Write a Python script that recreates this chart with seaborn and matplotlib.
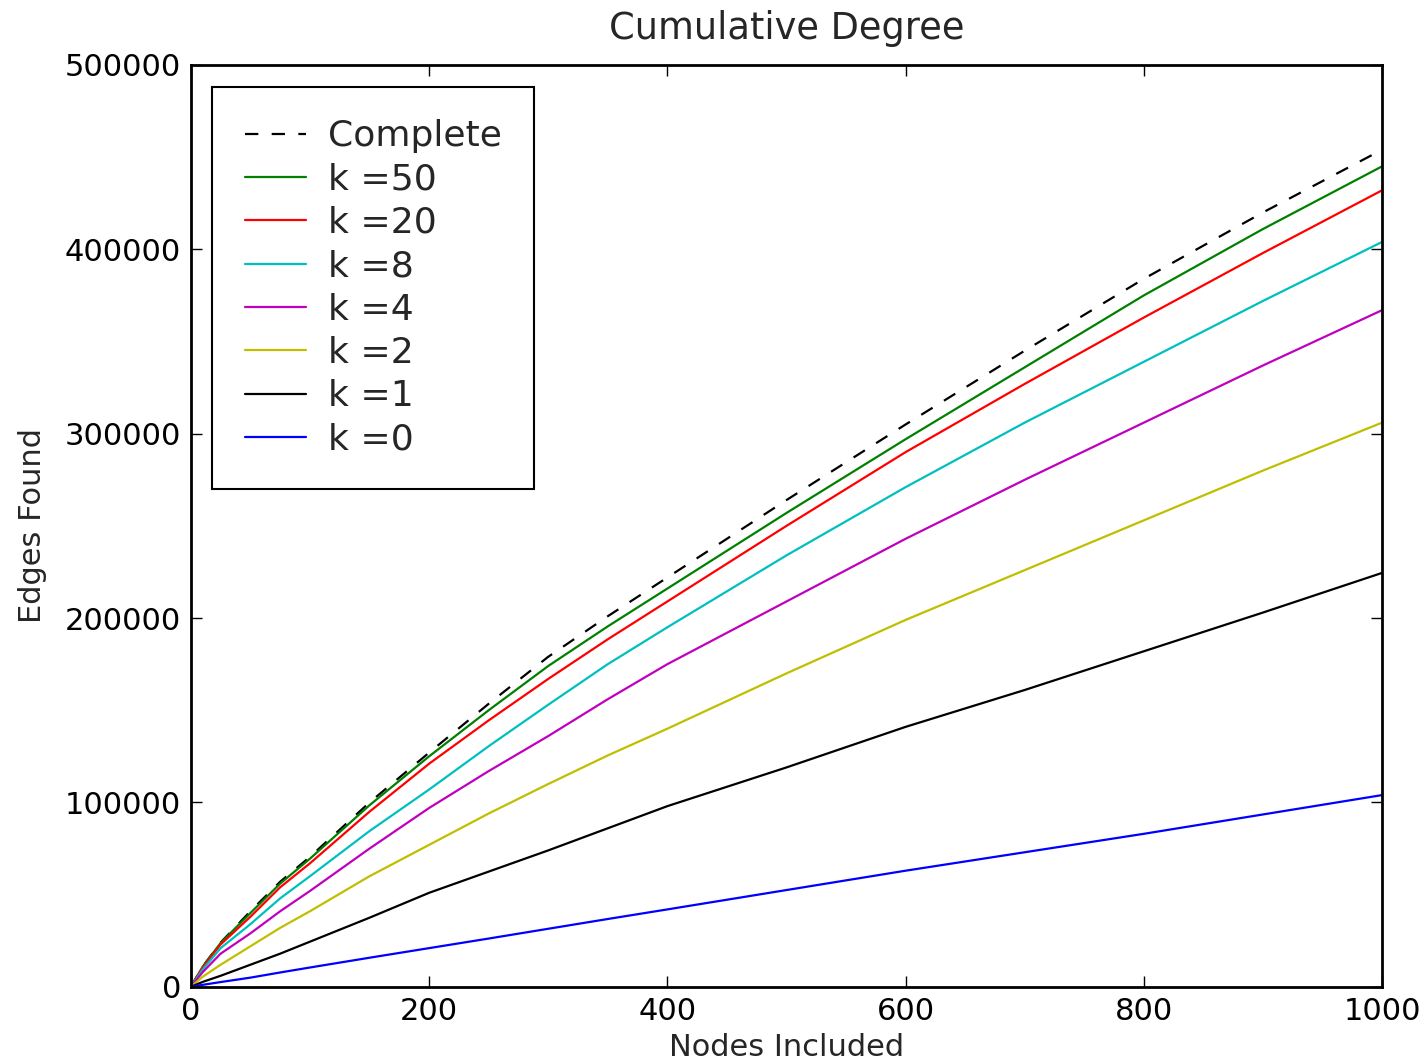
import numpy as np
import pandas as pd
import matplotlib
matplotlib.use("Agg")
import matplotlib.pyplot as plt
import seaborn as sns

nodes = [0, 10, 25, 50, 75, 100, 150, 200, 250, 300, 350, 400, 500, 600, 700, 800, 900, 1000]
complete = [0, 11000, 24000, 41000, 57000, 70500, 100000, 127000, 153500, 179000, 201000, 222000, 264000, 305000, 345000, 384000, 420000, 454000]
k50 = [0, 11000, 23800, 40000, 56000, 69500, 98500, 125000, 150000, 174000, 195500, 216000, 257000, 297000, 336000, 375000, 411000, 445000]
k20 = [0, 10500, 23000, 38000, 54000, 67000, 95000, 121000, 144500, 167000, 188500, 209000, 250000, 290000, 327000, 363000, 398000, 432000]
k8 = [0, 9500, 21000, 34000, 48000, 60000, 84500, 107000, 130500, 153000, 175000, 195000, 234000, 271000, 306000, 339000, 372000, 404000]
k4 = [0, 8000, 18000, 29000, 41000, 52000, 75000, 97000, 117000, 136000, 156000, 175000, 209000, 243000, 275000, 306000, 337000, 367000]
k2 = [0, 5500, 12000, 22000, 32000, 41000, 60000, 77000, 94000, 110000, 125500, 140000, 170000, 199000, 226000, 253000, 280000, 306000]
k1 = [0, 2700, 6000, 12000, 18000, 24500, 37500, 51000, 62500, 74000, 86000, 98000, 119000, 141000, 161000, 182000, 203000, 224500]
k0 = [0, 1100, 2600, 5000, 7800, 10500, 15800, 21000, 26200, 31500, 36800, 42000, 52500, 63000, 73000, 83000, 93500, 104000]

labels = ["Complete", "k =50", "k =20", "k =8", "k =4", "k =2", "k =1", "k =0"]
series = [complete, k50, k20, k8, k4, k2, k1, k0]
colors = ["black", "#008000", "#ff0000", "#00bfbf", "#bf00bf", "#bfbf00", "black", "#0000ff"]

sns.set_style("ticks")
plt.rcParams['font.family'] = ['DejaVu Sans']

fig = plt.figure(figsize=(14.24, 10.60), dpi=100)
ax = fig.add_axes([0.134, 0.069, 0.8365, 0.8697])

for lab, vals, col in zip(labels, series, colors):
    df = pd.DataFrame({"Nodes Included": nodes, "Edges Found": vals})
    ls = (0, (6, 6)) if lab == "Complete" else "-"
    sns.lineplot(data=df, x="Nodes Included", y="Edges Found", ax=ax,
                 color=col, linewidth=1.6, linestyle=ls, label=lab)

ax.set_xlim(0, 1000)
ax.set_ylim(0, 500000)
ax.set_xticks([0, 200, 400, 600, 800, 1000])
ax.set_yticks([0, 100000, 200000, 300000, 400000, 500000])
ax.ticklabel_format(style='plain', useOffset=False)
ax.tick_params(direction='in', length=8, width=1, labelsize=22, pad=7,
               top=True, right=True, colors='black')
for s in ax.spines.values():
    s.set_visible(True)
    s.set_linewidth(2)
    s.set_color('black')

ax.set_xlabel("Nodes Included", fontsize=22, labelpad=5)
ax.set_ylabel("Edges Found", fontsize=22, labelpad=13)
ax.set_title("Cumulative Degree", fontsize=26.5, pad=19)

leg = ax.legend(loc='upper left', fontsize=26, frameon=True, fancybox=False,
                handlelength=1.7, labelspacing=0.26, borderpad=0.9,
                handletextpad=0.6, borderaxespad=0.6)
leg.get_frame().set_edgecolor('black')
leg.get_frame().set_linewidth(1.5)
leg.get_frame().set_alpha(1)

fig.savefig("out.png", dpi=100)
